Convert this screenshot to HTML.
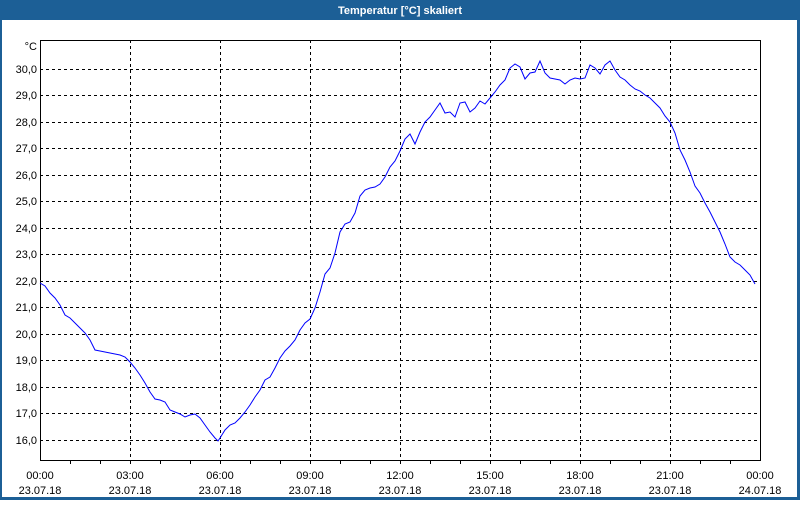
<!DOCTYPE html>
<html><head><meta charset="utf-8"><style>
html,body{margin:0;padding:0;background:#fff;}
body{width:800px;height:500px;overflow:hidden;}
</style></head><body>
<svg width="800" height="500" xmlns="http://www.w3.org/2000/svg" font-family="Liberation Sans, sans-serif" font-size="11">
<rect x="0" y="0" width="800" height="500" fill="#1c5f96"/>
<rect x="2" y="20" width="795" height="477" fill="#fff"/>
<text x="400" y="14" text-anchor="middle" fill="#fff" font-weight="bold" font-size="11">Temperatur [°C] skaliert</text>
<g stroke="#000" stroke-dasharray="3,3" stroke-width="1">
<line x1="40" x2="760" y1="69.5" y2="69.5"/><line x1="40" x2="760" y1="95.5" y2="95.5"/>
<line x1="40" x2="760" y1="122.5" y2="122.5"/><line x1="40" x2="760" y1="148.5" y2="148.5"/>
<line x1="40" x2="760" y1="175.5" y2="175.5"/><line x1="40" x2="760" y1="201.5" y2="201.5"/>
<line x1="40" x2="760" y1="228.5" y2="228.5"/><line x1="40" x2="760" y1="254.5" y2="254.5"/>
<line x1="40" x2="760" y1="281.5" y2="281.5"/><line x1="40" x2="760" y1="307.5" y2="307.5"/>
<line x1="40" x2="760" y1="334.5" y2="334.5"/><line x1="40" x2="760" y1="360.5" y2="360.5"/>
<line x1="40" x2="760" y1="387.5" y2="387.5"/><line x1="40" x2="760" y1="413.5" y2="413.5"/>
<line x1="40" x2="760" y1="440.5" y2="440.5"/>
<line x1="130.5" x2="130.5" y1="40" y2="460"/><line x1="220.5" x2="220.5" y1="40" y2="460"/>
<line x1="310.5" x2="310.5" y1="40" y2="460"/><line x1="400.5" x2="400.5" y1="40" y2="460"/>
<line x1="490.5" x2="490.5" y1="40" y2="460"/><line x1="580.5" x2="580.5" y1="40" y2="460"/>
<line x1="670.5" x2="670.5" y1="40" y2="460"/>
</g>
<rect x="40.5" y="40.5" width="720" height="420" fill="none" stroke="#000"/>
<g stroke="#000">
<line x1="70.5" x2="70.5" y1="460" y2="464"/><line x1="100.5" x2="100.5" y1="460" y2="464"/><line x1="130.5" x2="130.5" y1="460" y2="464"/>
<line x1="160.5" x2="160.5" y1="460" y2="464"/><line x1="190.5" x2="190.5" y1="460" y2="464"/><line x1="220.5" x2="220.5" y1="460" y2="464"/>
<line x1="250.5" x2="250.5" y1="460" y2="464"/><line x1="280.5" x2="280.5" y1="460" y2="464"/><line x1="310.5" x2="310.5" y1="460" y2="464"/>
<line x1="340.5" x2="340.5" y1="460" y2="464"/><line x1="370.5" x2="370.5" y1="460" y2="464"/><line x1="400.5" x2="400.5" y1="460" y2="464"/>
<line x1="430.5" x2="430.5" y1="460" y2="464"/><line x1="460.5" x2="460.5" y1="460" y2="464"/><line x1="490.5" x2="490.5" y1="460" y2="464"/>
<line x1="520.5" x2="520.5" y1="460" y2="464"/><line x1="550.5" x2="550.5" y1="460" y2="464"/><line x1="580.5" x2="580.5" y1="460" y2="464"/>
<line x1="610.5" x2="610.5" y1="460" y2="464"/><line x1="640.5" x2="640.5" y1="460" y2="464"/><line x1="670.5" x2="670.5" y1="460" y2="464"/>
<line x1="700.5" x2="700.5" y1="460" y2="464"/><line x1="730.5" x2="730.5" y1="460" y2="464"/>
</g>
<g fill="#000" text-anchor="end">
<text x="37" y="50">°C</text>
<text x="37" y="73">30,0</text><text x="37" y="99">29,0</text><text x="37" y="126">28,0</text>
<text x="37" y="152">27,0</text><text x="37" y="179">26,0</text><text x="37" y="205">25,0</text>
<text x="37" y="232">24,0</text><text x="37" y="258">23,0</text><text x="37" y="285">22,0</text>
<text x="37" y="311">21,0</text><text x="37" y="338">20,0</text><text x="37" y="364">19,0</text>
<text x="37" y="391">18,0</text><text x="37" y="417">17,0</text><text x="37" y="444">16,0</text>
</g>
<g fill="#000" text-anchor="middle">
<text x="40" y="479">00:00</text><text x="40" y="494">23.07.18</text>
<text x="130" y="479">03:00</text><text x="130" y="494">23.07.18</text>
<text x="220" y="479">06:00</text><text x="220" y="494">23.07.18</text>
<text x="310" y="479">09:00</text><text x="310" y="494">23.07.18</text>
<text x="400" y="479">12:00</text><text x="400" y="494">23.07.18</text>
<text x="490" y="479">15:00</text><text x="490" y="494">23.07.18</text>
<text x="580" y="479">18:00</text><text x="580" y="494">23.07.18</text>
<text x="670" y="479">21:00</text><text x="670" y="494">23.07.18</text>
<text x="760" y="479">00:00</text><text x="760" y="494">24.07.18</text>
</g>
<polyline fill="none" stroke="#0000ff" stroke-width="1" points="40,283 45,286 50,293 55,298 60,305 65,315 70,318 75,323 80,328 85,333 90,340 95,350 100,351 105,352 110,353 115,354 120,355 125,357 130,362 135,368 140,375 145,383 150,392 155,399 160,400 165,402 170,410 175,412 180,414 185,417 190,415 195,414 200,418 205,425 210,432 215,438 218,441 220,438 225,430 230,425 235,423 240,418 245,412 250,405 255,397 260,390 265,380 270,377 275,368 280,358 285,351 290,346 295,340 300,330 305,323 310,319 315,308 320,292 325,274 330,268 335,253 340,232 345,224 350,222 355,213 360,196 365,190 370,188 375,187 380,184 385,177 390,167 395,161 400,151 405,139 410,134 415,144 420,132 425,122 430,117 435,110 440,103 445,113 450,112 455,117 460,103 465,102 470,112 475,108 480,101 485,104 490,98 495,92 500,85 505,80 510,68 515,64 520,67 525,79 530,73 535,72 540,61 545,73 550,78 555,79 560,80 565,84 570,80 575,78 580,79 585,78 590,65 595,68 600,74 605,65 610,61 615,70 620,77 625,80 630,85 635,89 640,91 645,95 650,98 655,103 660,108 665,116 670,122 675,133 680,150 685,160 690,172 695,186 700,193 705,203 710,212 715,222 720,232 725,244 730,257 735,262 740,265 745,270 750,275 755,284"/>
</svg>
</body></html>
